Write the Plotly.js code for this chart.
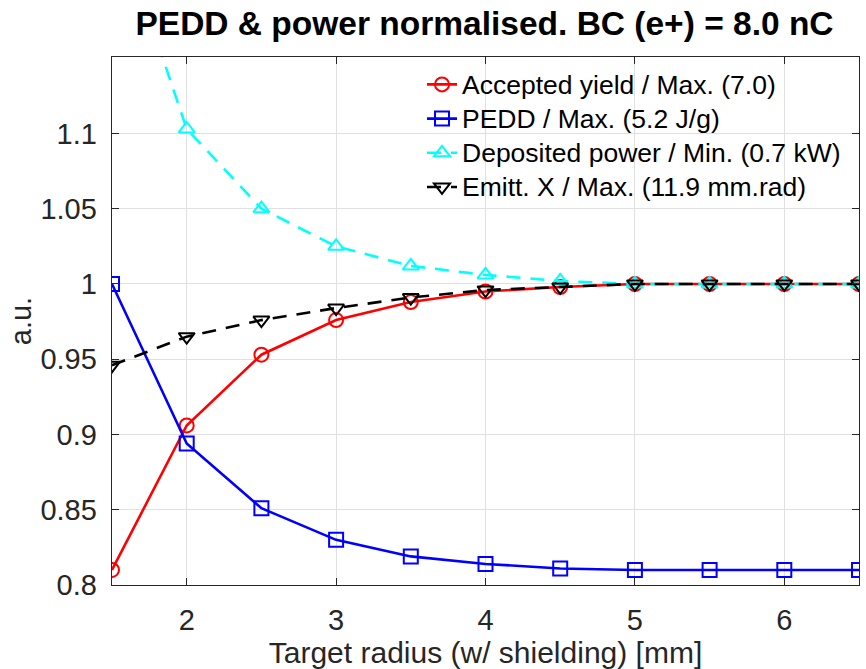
<!DOCTYPE html>
<html>
<head>
<meta charset="utf-8">
<script src="https://cdn.plot.ly/plotly-3.0.1.min.js"></script>
<style>html,body{margin:0;padding:0;background:#fff;}#chart{width:866px;height:669px;}</style>
</head>
<body>
<div id="chart"></div>
<script>
const radius = [1.5, 2, 2.5, 3, 3.5, 4, 4.5, 5, 5.5, 6, 6.5];
const yieldNorm = [0.810, 0.906, 0.953, 0.976, 0.988, 0.995, 0.998, 1.0, 1.0, 1.0, 1.0];
const peddNorm = [1.0, 0.894, 0.851, 0.830, 0.819, 0.814, 0.811, 0.810, 0.810, 0.810, 0.810];
const powerNorm = [1.25, 1.103, 1.050, 1.025, 1.012, 1.006, 1.002, 1.0, 1.0, 1.0, 1.0];
const emittNorm = [0.946, 0.965, 0.976, 0.984, 0.991, 0.996, 0.998, 1.0, 1.0, 1.0, 1.0];
const names = ["Accepted yield / Max. (7.0)", "PEDD / Max. (5.2 J/g)", "Deposited power / Min. (0.7 kW)", "Emitt. X / Max. (11.9 mm.rad)"];
const xTicks = [2, 3, 4, 5, 6];
const yTicks = [0.8, 0.85, 0.9, 0.95, 1, 1.05, 1.1];
const yTickText = ['0.8', '0.85', '0.9', '0.95', '1', '1.05', '1.1'];

const FONT = 'Liberation Sans, Arial, Helvetica, sans-serif';
function tr(y, name, color, dash, symbol) {
  return {
    x: radius, y: y, name: '<span style="font-size:26.5px">' + name + '</span>', type: 'scatter', mode: 'lines+markers',
    line: {color: color, width: 2.6, dash: dash},
    marker: {symbol: symbol, size: 14, color: color, line: {color: color, width: 2}}
  };
}
const data = [
  tr(yieldNorm, names[0], '#ff0000', 'solid', 'circle-open'),
  tr(peddNorm, names[1], '#0000ff', 'solid', 'square-open'),
  tr(powerNorm, names[2], '#00ffff', '14px,10px', 'triangle-up-open'),
  tr(emittNorm, names[3], '#000000', '14px,10px', 'triangle-down-open')
];
const axisCommon = {
  showline: true, mirror: 'ticks', linecolor: '#262626', linewidth: 1.3,
  ticks: 'inside', ticklen: 7, tickcolor: '#262626',
  showgrid: true, gridcolor: '#e0e0e0', gridwidth: 1, zeroline: false,
  tickfont: {family: FONT, size: 29, color: '#262626'}
};
const layout = {
  width: 866, height: 669,
  margin: {l: 112, r: 7, t: 57, b: 84},
  paper_bgcolor: '#fff', plot_bgcolor: '#fff',
  font: {family: FONT, color: '#262626'},
  title: {text: '<b>PEDD & power normalised. BC (e+) = 8.0 nC</b>', x: 0.5595, xanchor: 'center', y: 0.965, yanchor: 'middle',
          font: {family: FONT, size: 33.5, color: '#000'}},
  xaxis: Object.assign({}, axisCommon, {range: [1.5, 6.5], tickvals: xTicks, ticktext: xTicks.map(String), ticklabelstandoff: 9,
    title: {text: 'Target radius (w/ shielding) [mm]', standoff: 2, font: {family: FONT, size: 30, color: '#262626'}}}),
  yaxis: Object.assign({}, axisCommon, {range: [0.8, 1.1508], tickvals: yTicks, ticktext: yTickText, ticklabelstandoff: 8,
    title: {text: 'a.u.', standoff: 0, font: {family: FONT, size: 29, color: '#262626'}}}),
  legend: {x: 0.415, y: 0.99, xanchor: 'left', yanchor: 'top', bgcolor: 'rgba(0,0,0,0)', borderwidth: 0,
    font: {family: FONT, size: 24, color: '#000'}, itemwidth: 30},
  showlegend: true
};
Plotly.newPlot('chart', data, layout, {displayModeBar: false, staticPlot: true});
</script>
</body>
</html>
